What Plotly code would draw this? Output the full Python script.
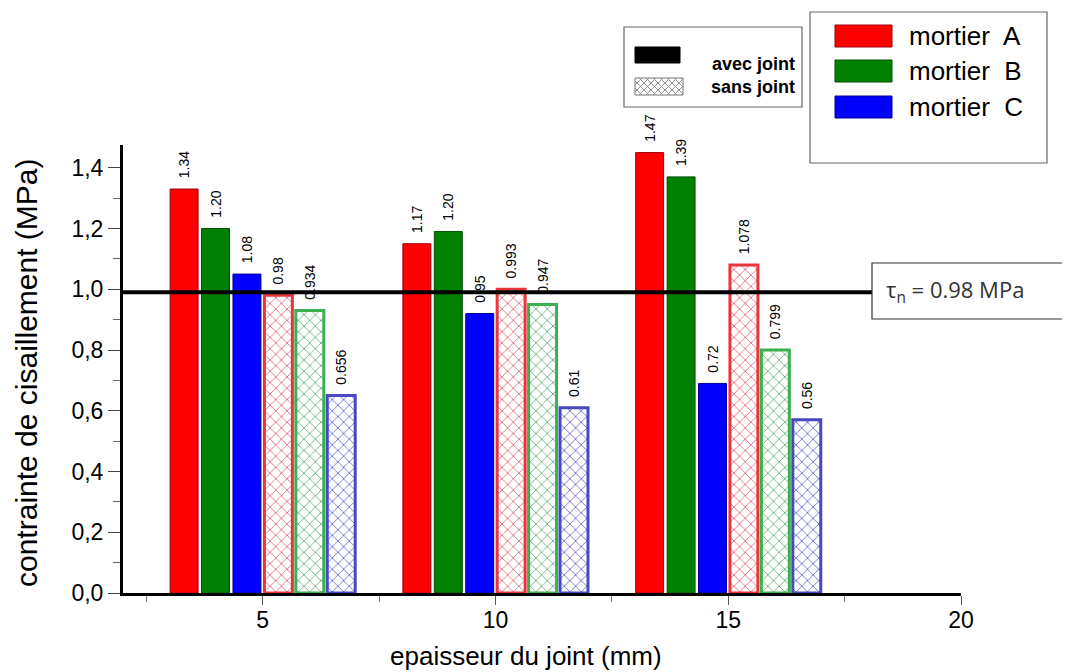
import plotly.graph_objects as go

# ---------------- data ----------------
epaisseur = [5, 10, 15]                      # joint thickness (mm)
mortiers = ["mortier A", "mortier B", "mortier C"]

# bar heights (MPa)
avec_A = [1.33, 1.15, 1.45]
avec_B = [1.20, 1.19, 1.37]
avec_C = [1.05, 0.92, 0.69]
sans_A = [0.98, 1.00, 1.08]
sans_B = [0.93, 0.95, 0.80]
sans_C = [0.65, 0.61, 0.57]

# value labels printed above the bars
lab_avec_A = ["1.34", "1.17", "1.47"]
lab_avec_B = ["1.20", "1.20", "1.39"]
lab_avec_C = ["1.08", "0.95", "0.72"]
lab_sans_A = ["0.98", "0.993", "1.078"]
lab_sans_B = ["0.934", "0.947", "0.799"]
lab_sans_C = ["0.656", "0.61", "0.56"]

tau_n = 0.99                 # drawn level of the reference line
tau_text = "0.98 MPa"

y_tickvals = [0.0, 0.2, 0.4, 0.6, 0.8, 1.0, 1.2, 1.4]
x_tickvals = [5, 10, 15, 20]

legend_joint = ["avec joint", "sans joint"]
x_title = "epaisseur du joint (mm)"
y_title = "contrainte de cisaillement (MPa)"

# ---------------- styles ----------------
solid_col = ["#ff0000", "#008000", "#0000ff"]
solid_edge = ["#a00000", "#005000", "#000090"]
hatch_edge = ["#e8343c", "#3cb050", "#4848c0"]
hatch_fg = ["#d84050", "#3a9a50", "#4040c0"]

# the page body has an 8 px margin: the figure is drawn from (8, 8)
OFF = 8
W, H = 1070 - OFF, 672 - OFF
L, R, T, B = 123 - OFF, 109, 145 - OFF, 79
PW, PH = W - L - R, H - T - B


def px(x):
    return (x - OFF - L) / PW


def py(y):
    return (H - B - (y - OFF)) / PH


fig = go.Figure()

pad = "\u00a0\u00a0"
label_font = dict(family="Liberation Sans", size=14, color="black")
for vals, labs, i in [(avec_A, lab_avec_A, 0), (avec_B, lab_avec_B, 1), (avec_C, lab_avec_C, 2)]:
    fig.add_trace(go.Bar(
        x=epaisseur, y=vals, name=mortiers[i] + " avec joint",
        marker=dict(color=solid_col[i], line=dict(color=solid_edge[i], width=1)),
        text=[pad + t for t in labs], textposition="outside", textangle=-90,
        textfont=label_font, constraintext="none", cliponaxis=False,
    ))
for vals, labs, i in [(sans_A, lab_sans_A, 0), (sans_B, lab_sans_B, 1), (sans_C, lab_sans_C, 2)]:
    fig.add_trace(go.Bar(
        x=epaisseur, y=vals, name=mortiers[i] + " sans joint",
        marker=dict(color="white", line=dict(color=hatch_edge[i], width=3),
                    pattern=dict(shape="x", fgcolor=hatch_fg[i], bgcolor="white",
                                 size=8, solidity=0.2, fgopacity=0.8)),
        text=[pad + t for t in labs], textposition="outside", textangle=-90,
        textfont=label_font, constraintext="none", cliponaxis=False,
    ))

shapes = []
annots = []

# reference line tau_n
shapes.append(dict(type="line", xref="paper", yref="y", x0=0, x1=px(872),
                   y0=tau_n, y1=tau_n, line=dict(color="black", width=4)))
# tau box
shapes.append(dict(type="rect", xref="paper", yref="paper", x0=px(872), x1=px(1066),
                   y0=py(319), y1=py(263), line=dict(color="#333", width=1.2),
                   fillcolor="white"))
annots.append(dict(xref="paper", yref="paper", x=px(884), y=py(291), xanchor="left",
                   yanchor="middle", showarrow=False,
                   text="τ<sub>n</sub> = " + tau_text,
                   font=dict(family="Open Sans", size=22, color="#333")))

# legend box for joint type
shapes.append(dict(type="rect", xref="paper", yref="paper", x0=px(624), x1=px(802),
                   y0=py(107), y1=py(27), line=dict(color="#666", width=1.2),
                   fillcolor="white"))
shapes.append(dict(type="rect", xref="paper", yref="paper", x0=px(635), x1=px(680),
                   y0=py(63), y1=py(47), line=dict(color="black", width=1),
                   fillcolor="black"))
# hatched swatch
hx0, hx1, hy0, hy1 = 635, 683, 78, 95
shapes.append(dict(type="rect", xref="paper", yref="paper", x0=px(hx0), x1=px(hx1),
                   y0=py(hy1), y1=py(hy0), line=dict(color="#777", width=1),
                   fillcolor="white", layer="above"))
step = 7
segs = []
k = hx0 + hy0
while k <= hx1 + hy1:
    xa, xb = max(hx0, k - hy1), min(hx1, k - hy0)
    if xb > xa:
        segs.append("M %.5f %.5f L %.5f %.5f" % (px(xa), py(k - xa), px(xb), py(k - xb)))
    k += step
k = hx0 - hy1
while k <= hx1 - hy0:
    xa, xb = max(hx0, hy0 + k), min(hx1, hy1 + k)
    if xb > xa:
        segs.append("M %.5f %.5f L %.5f %.5f" % (px(xa), py(xa - k), px(xb), py(xb - k)))
    k += step
shapes.append(dict(type="path", xref="paper", yref="paper", path=" ".join(segs),
                   line=dict(color="#888", width=0.9), layer="above"))
for txt, yy in zip(legend_joint, [64, 87]):
    annots.append(dict(xref="paper", yref="paper", x=px(797), y=py(yy), xanchor="right",
                       yanchor="middle", showarrow=False, text="<b>" + txt + "</b>",
                       font=dict(family="Liberation Sans", size=18, color="black")))

# legend box for mortar
shapes.append(dict(type="rect", xref="paper", yref="paper", x0=px(810), x1=px(1047),
                   y0=py(163), y1=py(12), line=dict(color="#666", width=1.2),
                   fillcolor="white"))
for i, (ya, yb, yc) in enumerate([(25, 47, 36), (60, 82, 71), (96, 118, 107)]):
    shapes.append(dict(type="rect", xref="paper", yref="paper", x0=px(835), x1=px(892),
                       y0=py(yb), y1=py(ya), line=dict(color=solid_edge[i], width=1),
                       fillcolor=solid_col[i]))
    annots.append(dict(xref="paper", yref="paper", x=px(907), y=py(yc), xanchor="left",
                       yanchor="middle", showarrow=False,
                       text=mortiers[i].replace(" ", "\u00a0 "),
                       font=dict(family="Liberation Sans", size=26, color="black")))

# axis titles
annots.append(dict(xref="paper", yref="paper", x=px(526), y=py(656), xanchor="center",
                   yanchor="middle", showarrow=False, text=x_title,
                   font=dict(family="Liberation Sans", size=26, color="black")))
annots.append(dict(xref="paper", yref="paper", x=px(26), y=py(373), xanchor="center",
                   yanchor="middle", showarrow=False, text=y_title, textangle=-90,
                   font=dict(family="Liberation Sans", size=30, color="black")))

fig.update_layout(
    width=W, height=H,
    margin=dict(l=L, r=R, t=T, b=B, pad=0),
    paper_bgcolor="white", plot_bgcolor="white",
    barmode="group", bargap=0.19, bargroupgap=0.11,
    showlegend=False,
    separators=", ",
    shapes=shapes, annotations=annots,
    font=dict(family="Liberation Sans", color="black"),
)
fig.update_xaxes(
    range=[2, 20], tickvals=x_tickvals, ticks="outside", ticklen=9, tickwidth=1,
    tickcolor="#555", showline=True, linewidth=3, linecolor="black",
    showgrid=False, zeroline=False, ticklabelstandoff=-5,
    minor=dict(dtick=2.5, tick0=0, ticks="outside", ticklen=6, tickcolor="#777"),
    tickfont=dict(family="Liberation Sans", size=23, color="black"),
)
fig.update_yaxes(
    range=[0, 1.475], tickvals=y_tickvals, tickformat=".1f", ticks="outside",
    ticklen=12, tickwidth=1, tickcolor="#444", showline=True, linewidth=3,
    linecolor="black", showgrid=False, zeroline=False,
    minor=dict(dtick=0.1, tick0=0, ticks="outside", ticklen=7, tickcolor="#666"),
    tickfont=dict(family="Liberation Sans", size=23, color="black"),
)

fig.write_html("out.html")
